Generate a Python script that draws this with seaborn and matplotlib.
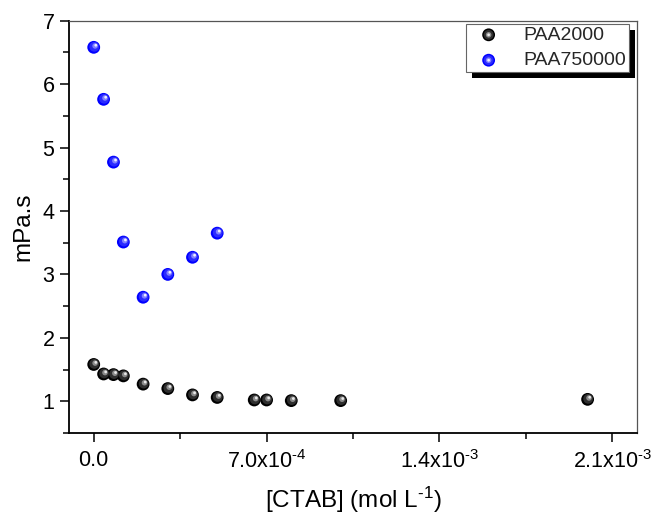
import numpy as np
import pandas as pd
import matplotlib
matplotlib.use("Agg")
import matplotlib.pyplot as plt
import matplotlib.patches as mpatches
import matplotlib.transforms as mtransforms
from matplotlib.legend_handler import HandlerTuple
from matplotlib.ticker import MultipleLocator, FixedLocator, FixedFormatter
import seaborn as sns

# CTAB concentration (mol/L) and viscosity (mPa.s)
ctab_paa2000 = [0.0, 4e-5, 8e-5, 1.2e-4, 2e-4, 3e-4, 4e-4, 5e-4, 6.5e-4, 7e-4, 8e-4, 1.0e-3, 2.0e-3]
visc_paa2000 = [1.58, 1.43, 1.42, 1.40, 1.27, 1.20, 1.10, 1.06, 1.02, 1.02, 1.01, 1.01, 1.03]

ctab_paa750000 = [0.0, 4e-5, 8e-5, 1.2e-4, 2e-4, 3e-4, 4e-4, 5e-4]
visc_paa750000 = [6.58, 5.76, 4.77, 3.51, 2.64, 3.00, 3.27, 3.65]

series_names = ["PAA2000", "PAA750000"]
series_colors = {"PAA2000": "#000000", "PAA750000": "#0000ff"}
highlight_colors = {"PAA2000": ["#2e2e2e", "#8a8a8a", "#e8e8e8"],
                    "PAA750000": ["#2a2aff", "#8080ff", "#eeeeff"]}

x_ticks = [0.0, 7e-4, 1.4e-3, 2.1e-3]
x_tick_labels = ["0.0", "7.0x10$^{\u2010" + "4}$", "1.4x10$^{\u2010" + "3}$", "2.1x10$^{\u2010" + "3}$"]

df = pd.concat([
    pd.DataFrame({"CTAB": ctab_paa2000, "visc": visc_paa2000, "series": series_names[0]}),
    pd.DataFrame({"CTAB": ctab_paa750000, "visc": visc_paa750000, "series": series_names[1]}),
], ignore_index=True)

sns.set_theme(style="white")
plt.rcParams["font.family"] = ["Liberation Sans", "DejaVu Sans"]
plt.rcParams["mathtext.fontset"] = "custom"
plt.rcParams["mathtext.rm"] = "Liberation Sans"
plt.rcParams["mathtext.it"] = "Liberation Sans"
plt.rcParams["mathtext.default"] = "regular"

fig = plt.figure(figsize=(6.53, 5.13), dpi=100)
ax = fig.add_axes([0.1057, 0.156, 0.8698, 0.8037])

# base spheres
sns.scatterplot(data=df, x="CTAB", y="visc", hue="series", hue_order=series_names,
                palette=series_colors, s=85, edgecolor="none", linewidth=0,
                ax=ax, zorder=3, legend=False)

# glossy highlight layers, shifted towards the upper right
handles = []
for name in series_names:
    sub = df[df["series"] == name]
    layers = [ax.scatter([], [], s=85, color=series_colors[name], edgecolors="none")]
    sizes = [50, 16, 4]
    offsets = [(0.4, 0.4), (1.0, 1.0), (1.5, 1.5)]
    for k, (col, sz, off) in enumerate(zip(highlight_colors[name], sizes, offsets)):
        tr = ax.transData + mtransforms.ScaledTranslation(off[0] / 72, off[1] / 72,
                                                          fig.dpi_scale_trans)
        pc = ax.scatter(sub["CTAB"], sub["visc"], s=sz, color=col, edgecolors="none",
                        zorder=4 + k, transform=tr)
        layers.append(pc)
    handles.append(tuple(layers))

ax.set_xlim(-1e-4, 2.2e-3)
ax.set_ylim(0.5, 7.0)

ax.xaxis.set_major_locator(FixedLocator(x_ticks))
ax.xaxis.set_major_formatter(FixedFormatter(x_tick_labels))
ax.xaxis.set_minor_locator(FixedLocator([3.5e-4, 1.05e-3, 1.75e-3]))
ax.yaxis.set_major_locator(MultipleLocator(1))
ax.yaxis.set_minor_locator(MultipleLocator(0.5))

ax.tick_params(axis="both", which="major", direction="out", length=6.5, width=1.1,
               labelsize=15.5, color="black", labelcolor="black",
               bottom=True, left=True, top=False, right=False)
ax.tick_params(axis="both", which="minor", direction="out", length=4, width=1.1,
               color="black", bottom=True, left=True, top=False, right=False)
ax.tick_params(axis="x", which="major", pad=6)
ax.tick_params(axis="y", which="major", pad=4)

for side in ["left", "bottom"]:
    ax.spines[side].set_color("black")
    ax.spines[side].set_linewidth(1.3)
for side in ["top", "right"]:
    ax.spines[side].set_color("#555555")
    ax.spines[side].set_linewidth(0.9)

ax.set_xlabel("[CTAB] (mol L$^{\u2010" + "1}$)", fontsize=17.5, color="black", labelpad=8)
ax.set_ylabel("mPa.s", fontsize=17.5, color="black", labelpad=6)

leg = ax.legend(handles, series_names, handler_map={tuple: HandlerTuple(ndivide=1)},
                loc="upper right", bbox_to_anchor=(0.9854, 0.992), frameon=True,
                fancybox=False, fontsize=14, handletextpad=0.75, borderpad=0.12,
                labelspacing=0.4, borderaxespad=0, handlelength=2.1,
                framealpha=1.0, facecolor="white")
leg.get_frame().set_edgecolor("#666666")
leg.get_frame().set_linewidth(0.8)
leg.set_zorder(10)

# solid drop shadow behind the legend box
fig.canvas.draw()
bb = leg.get_window_extent().transformed(fig.transFigure.inverted())
dx, dy = 6 / fig.bbox.width, -6 / fig.bbox.height
shadow = mpatches.Rectangle((bb.x0 + dx, bb.y0 + dy), bb.width, bb.height,
                            transform=fig.transFigure, facecolor="black",
                            edgecolor="none", zorder=9)
shadow.set_clip_on(False)
ax.add_artist(shadow)

fig.savefig("out.png", dpi=100)
